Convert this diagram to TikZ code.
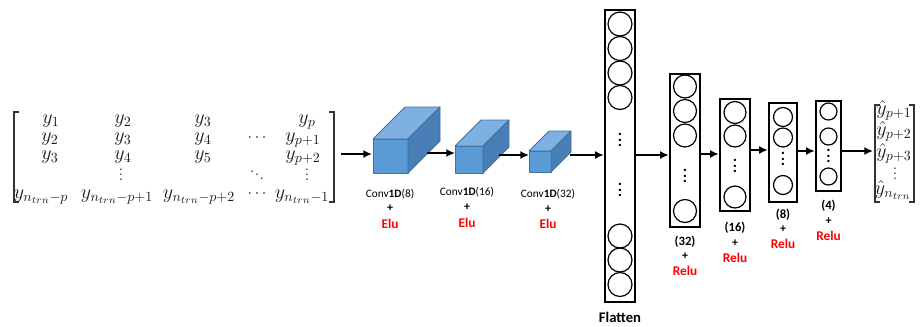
\RequirePackage{fix-cm}
\documentclass[tikz,border=0pt]{standalone}
\usepackage{fontspec}
\newfontfamily\lab{Carlito}
\usetikzlibrary{arrows.meta}
\definecolor{cubefront}{HTML}{5B9BD5}
\definecolor{cubetop}{HTML}{7EB1E1}
\definecolor{cubeside}{HTML}{4A7EB6}
\definecolor{cubeedge}{HTML}{41719C}
\definecolor{actred}{HTML}{FF0000}
\newcommand{\mycube}[5]{%
  \filldraw[cubeface, fill=cubefront] (#1,#2) rectangle (#3,#4);
  \filldraw[cubeface, fill=cubetop] (#1,#2) -- ++(#5,-#5) -- (#3+#5,#2-#5) -- (#3,#2) -- cycle;
  \filldraw[cubeface, fill=cubeside] (#3,#2) -- ++(#5,-#5) -- (#3+#5,#4-#5) -- (#3,#4) -- cycle;}
\newcommand{\vd}[1]{\vbox{\baselineskip#1\lineskiplimit0pt\lineskip0pt\hbox{.}\hbox{.}\hbox{.}}}
\newcommand{\dd}{\hbox{\raise5.4pt\hbox{.}\kern0.3pt\raise2.7pt\hbox{.}\kern0.3pt\hbox{.}}}
\tikzset{
  ent/.style={inner sep=0pt, anchor=base, text=black!90, font=\fontsize{15}{17}\selectfont},
  dotm/.style={inner sep=0pt, text=black!90, font=\fontsize{12}{12}\selectfont},
  arr/.style={-{Latex[length=6.5pt,width=6pt]}, line width=1.5pt},
  layerbox/.style={draw, rectangle, line width=1.8pt, inner sep=0pt},
  neuron/.style={circle, draw, line width=0.9pt, inner sep=0pt},
  vdotnode/.style={inner sep=0pt, font=\lab\bfseries\fontsize{12}{12}\selectfont},
  lbl/.style={inner sep=0pt, font=\lab\fontsize{8.5}{10}\selectfont},
  plusl/.style={inner sep=0pt, font=\lab\bfseries\fontsize{9}{10}\selectfont},
  sizel/.style={inner sep=0pt, font=\lab\bfseries\fontsize{9.5}{11}\selectfont},
  act/.style={inner sep=0pt, text=actred, font=\lab\bfseries\fontsize{10}{12}\selectfont},
  bracket/.style={line width=0.8pt, draw=black!80},
  cubeface/.style={draw=cubeedge, line width=0.6pt, line join=round},
}
\begin{document}
\begin{tikzpicture}[x=0.75pt,y=-0.75pt]
\useasboundingbox (0,0) rectangle (922,326);

% ---------- input matrix ----------
\draw[bracket] (19,112) -- (14,112) -- (14,202) -- (19,202);
\draw[bracket] (329,112) -- (334,112) -- (334,202) -- (329,202);
\node[ent] (m11) at (51,123) {$y_1$};
\node[ent] (m12) at (123,123) {$y_2$};
\node[ent] (m13) at (203,123) {$y_3$};
\node[ent] (m15) at (307,123) {$y_p$};
\node[ent] (m21) at (50,141) {$y_2$};
\node[ent] (m22) at (123,141) {$y_3$};
\node[ent] (m23) at (203,141) {$y_4$};
\node[dotm] (m24) at (257,138) {$\cdots$};
\node[ent] (m25) at (303,141) {$y_{p+1}$};
\node[ent] (m31) at (50,159) {$y_3$};
\node[ent] (m32) at (123,159) {$y_4$};
\node[ent] (m33) at (203,159) {$y_5$};
\node[ent] (m35) at (303,159) {$y_{p+2}$};
\node[dotm] (m42) at (121,175) {\vd{3.6pt}};
\node[dotm] (m44) at (257,175) {\dd};
\node[dotm] (m45) at (307,175) {\vd{3.6pt}};
\node[ent] (m51) at (41,198) {$y_{n_{trn}-p}$};
\node[ent] (m52) at (117,198) {$y_{n_{trn}-p+1}$};
\node[ent] (m53) at (199,198) {$y_{n_{trn}-p+2}$};
\node[dotm] (m54) at (257,194) {$\cdots$};
\node[ent] (m55) at (302,198) {$y_{n_{trn}-1}$};
\coordinate (matout) at (341,154);

% ---------- convolution cubes ----------
\mycube{373}{139}{408}{173}{32}
\mycube{455}{146}{483}{173}{26}
\mycube{529}{151}{551}{172}{20}
\coordinate (c1in) at (372,154);
\coordinate (c1out) at (427,153);
\coordinate (c2in) at (455,153);
\coordinate (c2out) at (499,155);
\coordinate (c3in) at (529,155);
\coordinate (c3out) at (570,155);

\node[lbl] (t1) at (390,194) {Conv\textbf{1D}(8)};
\node[plusl] (p1) at (390,208) {+};
\node[act] (e1) at (390,224) {Elu};
\node[lbl] (t2) at (467,192) {Conv\textbf{1D}(16)};
\node[plusl] (p2) at (467,207) {+};
\node[act] (e2) at (467,223) {Elu};
\node[lbl] (t3) at (548,194) {Conv\textbf{1D}(32)};
\node[plusl] (p3) at (548,209) {+};
\node[act] (e3) at (548,224) {Elu};

% ---------- flatten ----------
\node[layerbox, minimum width=22.5pt, minimum height=219pt] (flat) at (620,156) {};
\foreach \yy [count=\i] in {24,48.5,73,97.5,236,260,284.5}
  \node[neuron, minimum size=18pt] (f\i) at (620,\yy) {};
\node[vdotnode] (fd1) at (620,140) {\vd{4.2pt}};
\node[vdotnode] (fd2) at (620,190) {\vd{4.2pt}};
\node[inner sep=0pt, font=\lab\bfseries\fontsize{11}{12}\selectfont] (flab) at (620,317) {Flatten};

% ---------- dense 32 ----------
\node[layerbox, minimum width=22.5pt, minimum height=114.75pt] (L32) at (685,150.5) {};
\foreach \yy [count=\i] in {86.5,111,135.5,211}
  \node[neuron, minimum size=17.25pt] (a\i) at (685,\yy) {};
\node[vdotnode] (ad) at (685,176) {\vd{4.2pt}};
\node[sizel] (s32) at (685,242) {(32)};
\node[plusl] (q32) at (685,256) {+};
\node[act] (r32) at (685,271) {Relu};

% ---------- dense 16 ----------
\node[layerbox, minimum width=22.5pt, minimum height=84pt] (L16) at (735,155) {};
\foreach \yy [count=\i] in {112.5,136,197}
  \node[neuron, minimum size=16.5pt] (b\i) at (735,\yy) {};
\node[vdotnode] (bd) at (735,166) {\vd{4.2pt}};
\node[sizel] (s16) at (735,228) {(16)};
\node[plusl] (q16) at (735,243) {+};
\node[act] (r16) at (735,258) {Relu};

% ---------- dense 8 ----------
\node[layerbox, minimum width=21pt, minimum height=74.25pt] (L8) at (783,152.5) {};
\foreach \yy [count=\i] in {117,137.5,185}
  \node[neuron, minimum size=14.25pt] (c\i) at (783,\yy) {};
\node[vdotnode] (cd) at (783,159) {\vd{4.2pt}};
\node[sizel] (s8) at (783,215) {(8)};
\node[plusl] (q8) at (783,229) {+};
\node[act] (r8) at (783,244) {Relu};

% ---------- dense 4 ----------
\node[layerbox, minimum width=18.75pt, minimum height=67.5pt] (L4) at (828.5,146) {};
\foreach \yy [count=\i] in {111.5,136.5,176.5}
  \node[neuron, minimum size=12.75pt] (d\i) at (828.5,\yy) {};
\node[vdotnode] (dd) at (828.5,156) {\vd{4.2pt}};
\node[sizel] (s4) at (828.5,206) {(4)};
\node[plusl] (q4) at (828.5,221) {+};
\node[act] (r4) at (828.5,236) {Relu};

% ---------- output vector ----------
\draw[bracket] (880,105) -- (875,105) -- (875,202) -- (880,202);
\draw[bracket] (909,105) -- (914,105) -- (914,202) -- (909,202);
\node[ent] (o1) at (894,114) {$\hat{y}_{p+1}$};
\node[ent] (o2) at (894,135) {$\hat{y}_{p+2}$};
\node[ent] (o3) at (894,157) {$\hat{y}_{p+3}$};
\node[dotm] (o4) at (895,174) {\vd{3.6pt}};
\node[ent] (o5) at (893,194) {$\hat{y}_{n_{trn}}$};
\coordinate (outin) at (873,151);

% ---------- connectors ----------
\draw[arr] (matout) -- (c1in);
\draw[arr] (c1out) -- (c2in);
\draw[arr] (c2out) -- (c3in);
\draw[arr] (c3out) -- (flat.west |- c3out);
\draw[arr] (flat.east |- 0,155) -- (L32.west |- 0,155);
\draw[arr] (L32.east |- 0,154) -- (L16.west |- 0,154);
\draw[arr] (L16.east |- 0,150) -- (L8.west |- 0,150);
\draw[arr] (L8.east |- 0,151) -- (L4.west |- 0,151);
\draw[arr] (L4.east |- outin) -- (outin);
\end{tikzpicture}
\end{document}
